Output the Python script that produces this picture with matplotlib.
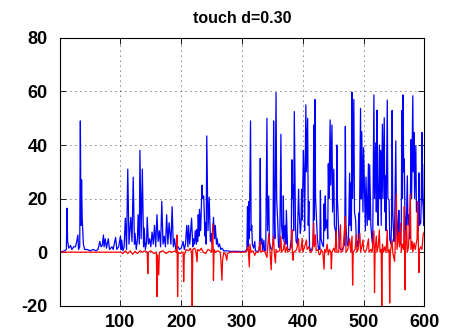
import matplotlib
matplotlib.use("Agg")
import matplotlib.pyplot as plt

title = "touch d=0.30"
x_ticks = [100, 200, 300, 400, 500, 600]
y_ticks = [-20, 0, 20, 40, 60, 80]

blue_idx = [1, 8, 11, 12, 13, 15, 18, 20, 23, 26, 28, 30, 31, 33, 34, 35, 36, 37, 39, 41,
            45, 50, 55, 60, 63, 66, 68, 70, 72, 73, 75, 77, 80, 82, 86, 88, 92, 94, 97, 100,
            101, 102, 104, 106, 108, 110, 112, 114, 116, 117, 119, 121, 123, 124, 126, 128, 129, 131, 132, 134,
            136, 138, 139, 141, 143, 144, 146, 148, 150, 152, 154, 156, 158, 160, 162, 164, 166, 168, 170, 172,
            174, 176, 178, 180, 183, 185, 187, 189, 191, 193, 195, 197, 200, 203, 205, 207, 209, 211, 212, 214,
            217, 219, 220, 222, 223, 225, 226, 227, 228, 229, 230, 232, 234, 235, 237, 239, 240, 241, 242, 244,
            246, 248, 250, 251, 253, 255, 256, 258, 259, 261, 263, 265, 267, 270, 275, 280, 290, 300, 305, 308,
            309, 310, 311, 312, 314, 315, 316, 317, 319, 321, 322, 325, 328, 329, 330, 331, 333, 334, 336, 337,
            339, 341, 342, 344, 345, 347, 349, 351, 352, 353, 354, 356, 357, 359, 360, 362, 364, 365, 367, 368,
            369, 371, 372, 373, 375, 379, 381, 382, 383, 384, 385, 386, 388, 389, 391, 393, 394, 396, 397, 398,
            399, 401, 402, 403, 405, 406, 408, 409, 410, 411, 413, 415, 417, 418, 419, 420, 421, 423, 424, 426,
            427, 428, 429, 430, 432, 434, 435, 436, 437, 438, 440, 441, 442, 443, 445, 446, 448, 449, 451, 452,
            454, 455, 456, 457, 459, 460, 462, 465, 467, 469, 470, 471, 473, 475, 477, 478, 479, 480, 481, 482,
            484, 485, 487, 488, 490, 491, 492, 493, 495, 496, 497, 499, 500, 502, 503, 504, 506, 508, 509, 510,
            512, 514, 515, 517, 518, 520, 521, 522, 523, 524, 526, 527, 528, 529, 531, 532, 534, 535, 536, 537,
            539, 540, 542, 543, 545, 546, 547, 548, 550, 551, 553, 554, 556, 557, 558, 559, 561, 562, 563, 564,
            565, 566, 567, 568, 569, 570, 572, 573, 575, 576, 577, 578, 579, 581, 582, 583, 584, 586, 587, 589,
            590, 591, 592, 594, 595, 596, 597, 598, 599, 600]
blue_val = [0, 0.5, 1, 16.4, 4, 1.5, 2.5, 1, 2, 2, 4, 6.4, 1, 2, 49, 10, 27, 12.8, 3, 1,
            1, 0.5, 1, 0.5, 1, 4, 2, 2.5, 6.4, 2, 5, 1.5, 5, 1, 2, 1, 5.5, 1, 2, 6,
            1, 4.5, 0.5, 2, 12.7, 1, 31, 3, 10, 13, 4, 28, 3, 7, 1, 5, 14, 3, 38, 5,
            31, 2, 9, 1, 4, 13, 3, 5, 2, 7.5, 3, 10, 2, 14, 4, 8, 2, 19, 3, 6,
            2, 14, 3, 11, 3, 17, 2, 5, 1, 2, 2, 1, 1.5, 4, 1, 3, 10, 2, 10, 3,
            12.7, 2, 5, 3, 8, 3, 8.5, 4, 14, 6, 16, 8, 25, 20, 21, 6, 11, 3, 43.4, 8,
            20.5, 4, 7, 3, 13, 5, 10, 3, 5, 2, 3, 1, 1.5, 0.5, 0.5, 0.3, 0.3, 0.2, 0.3, 1,
            17, 2, 18.9, 5, 49, 8, 10, 3, 1.5, 4, 0.5, 0.3, 0.5, 5, 35, 3, 5, 0.5, 4.5, 0.5,
            0.5, 50, 8, 21, 4, 1.5, 1, 3, 49, 15, 5, 59.6, 20, 10, 2, 1.5, 44, 10, 5, 21,
            4, 10, 3, 15.6, 1, 1, 5, 34.5, 20, 25, 8, 52.5, 10, 4, 3, 23.5, 15, 7, 10, 23.5,
            12, 38, 29.7, 8, 55, 30, 50, 10, 19, 2, 0.5, 1, 3, 47.5, 12, 57, 20, 10, 5, 1,
            2, 1, 23, 5, 3, 2, 18, 8, 21, 9, 12, 5, 33, 20, 49.4, 25, 47.5, 15, 31, 10,
            7.5, 2, 40, 20, 8, 2, 1, 1, 2, 3, 47, 10, 2.5, 3, 29.5, 10, 26, 8, 59.7, 20,
            57, 15, 12, 4, 4, 2, 14.6, 5, 53.7, 20, 45, 15, 39, 19, 8, 28, 10, 33, 12, 32.6,
            10, 4, 3, 58.7, 20, 40.8, 15, 53, 20, 10, 40, 20, 38, 10, 47.8, 20, 50.2, 15, 28.5, 8,
            56.8, 20, 19.4, 5, 3, 10, 52.9, 15, 4, 8, 41.6, 15, 9, 5, 15.6, 5, 3, 10, 52.9, 20,
            58.7, 30, 34.8, 15, 10, 5, 28.5, 10, 14, 5, 20, 42, 20, 58.4, 30, 44.7, 20, 39.7, 15, 15.6,
            8, 29.6, 10, 11, 20, 44.7, 20, 17, 10, 32.6]

red_idx = [1, 100, 104, 108, 112, 116, 120, 124, 128, 132, 136, 140, 144, 145, 146, 150, 155, 159, 160, 161,
           163, 164, 170, 175, 180, 185, 190, 192, 193, 194, 195, 198, 203, 204, 205, 208, 212, 215, 217, 218,
           219, 222, 224, 226, 227, 230, 233, 236, 240, 244, 248, 250, 252, 253, 254, 256, 260, 264, 265, 267,
           268, 270, 273, 275, 276, 280, 305, 308, 310, 312, 313, 315, 318, 321, 323, 327, 330, 331, 335, 338,
           341, 342, 344, 346, 348, 349, 352, 353, 355, 356, 358, 362, 364, 365, 368, 370, 371, 374, 375, 378,
           381, 382, 383, 384, 385, 388, 390, 393, 394, 397, 399, 400, 403, 406, 407, 410, 412, 414, 416, 418,
           419, 421, 422, 425, 427, 429, 430, 433, 435, 436, 438, 440, 442, 444, 446, 447, 448, 451, 453, 455,
           456, 459, 462, 463, 466, 470, 471, 474, 477, 479, 481, 482, 483, 486, 488, 489, 491, 494, 495, 497,
           499, 500, 502, 505, 508, 509, 512, 514, 517, 518, 519, 521, 522, 524, 526, 527, 529, 530, 531, 533,
           535, 537, 539, 540, 542, 543, 544, 547, 548, 551, 552, 554, 555, 558, 559, 561, 562, 564, 566, 567,
           568, 569, 571, 572, 574, 577, 578, 580, 581, 583, 585, 588, 589, 591, 592, 594, 596, 598, 600]
red_val = [0, 0, -0.5, 0.5, -0.5, 0.5, -0.8, 0.3, -0.5, 0.5, 0, 0.5, 0, -8, 0, 0.5, -0.5, 0, -16.6, -1,
           -8.5, 0, 0.5, -0.5, 0.3, 0, 0.5, 0, 6.4, -16.6, 0, -0.5, 0, -11, -1, 1, 0.5, 1.5, 0, -20.3,
           1, 1.5, 0.5, -3.6, 1, 0.5, 1.5, 0, -0.5, 1, 0.5, 0, 10.5, -10.5, 1, 0, 0.5, 0, -2, -10.5,
           -3, 0, -1, -3, -0.5, 0, 0, 0.5, 2, -5.5, 3, 0, 0.5, -1.2, 0, 0, 4, 0, 0.5, 0,
           -2, 1, 7, 0, -6.6, 0, 6, 0, -4, 1, 0, 0.5, 6, 0, 1, 4, 0, 2, 0, 0.5,
           2, 8.5, -1, -3, 0, 0.5, 1, 5, 0, 1, 5.2, 0, 2, 4.6, 1, 2, 0, 0, 1, 10.8,
           2, 6.5, 0.5, 1, -1, -0.7, 1, 0, -6.4, 1, 0, 3, -1, 1, 0, -6.3, 0, 1.5, 0, 8,
           0, 0, 10.2, 0, 0.5, 13.3, 0, 1, 5, 0, 6, -12.3, 0, 1, 6.5, 0, 1, 7, 0, 2,
           4.6, 1, 0, 1, 5, 0, 1, 0, 8, -15.1, 1, 6, 0, 2, 8.3, 0, 1, -20, 3, 0,
           2, 0, 8.3, 0, 1, -19, 0, 4.6, 0, -3.5, 2, 21.7, 1, 7.5, 2, 10.8, 0, 3, 1, 17,
           -14.1, 1, 10, 0, 2, 21.7, 1, 4, 0, 3.5, 1, 5, 18.9, -7.6, 1, 2, 1, 6.5, 7.6]

plt.rcParams['font.family'] = ['Liberation Sans', 'DejaVu Sans']

fig = plt.figure(figsize=(4.5, 3.31), dpi=100)
ax = fig.add_axes([0.134, 0.0764, 0.809, 0.809])

ax.plot(blue_idx, blue_val, color=(0, 0, 1), lw=0.9)
ax.plot(red_idx, red_val, color=(1, 0, 0), lw=0.9)

ax.set_xlim(1, 600)
ax.set_ylim(-20, 80)
ax.set_xticks(x_ticks)
ax.set_yticks(y_ticks)
ax.set_xticklabels([str(t) for t in x_ticks], fontsize=13, fontweight='bold')
ax.set_yticklabels([str(t) for t in y_ticks], fontsize=13, fontweight='bold')
ax.tick_params(direction='in', length=4, width=0.6, top=True, right=True, pad=6)
ax.tick_params(axis='y', pad=9)
ax.grid(True, color='black', linestyle=(0, (1, 5)), linewidth=0.6)
for s in ax.spines.values():
    s.set_linewidth(0.8)
ax.set_title(title, fontsize=11.5, fontweight='bold', pad=11)

fig.savefig("out.png", dpi=100)
